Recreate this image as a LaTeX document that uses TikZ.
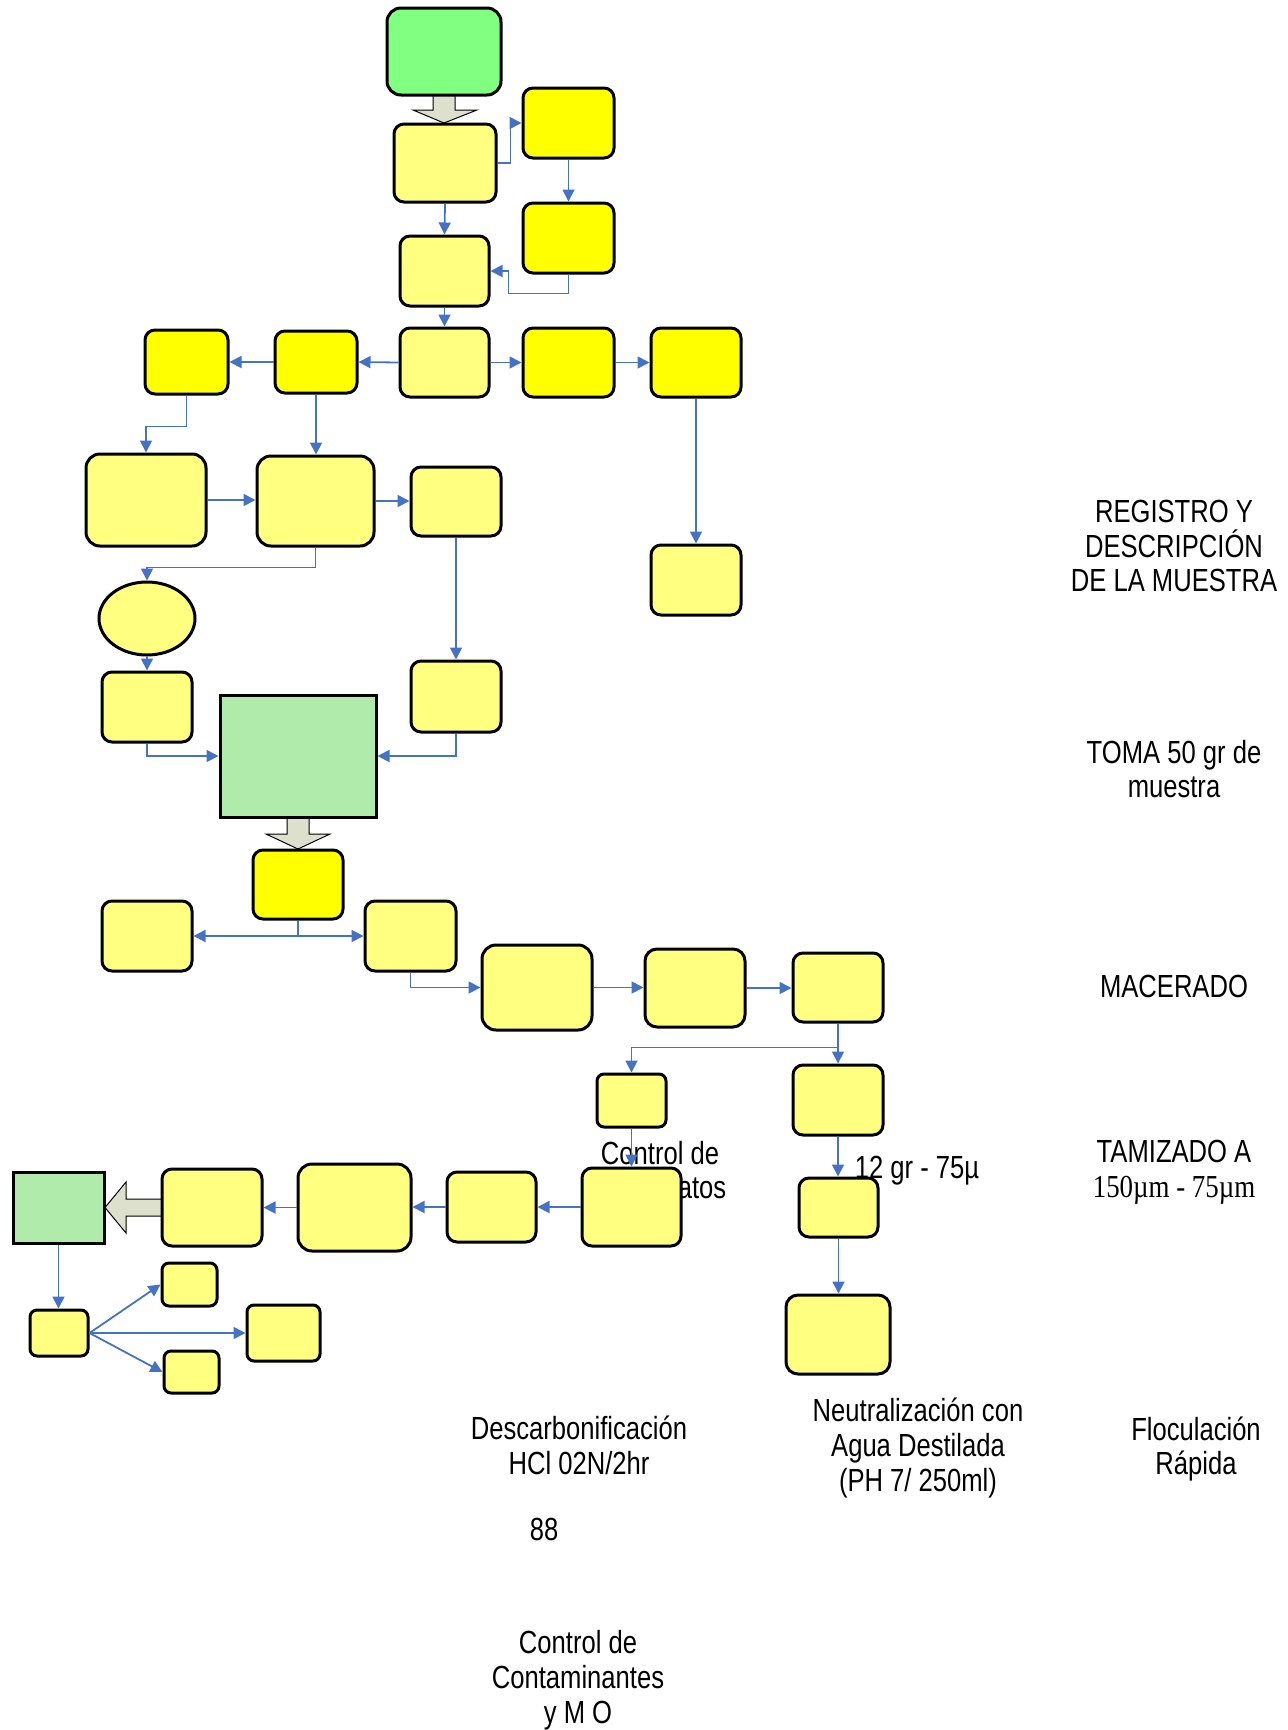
\documentclass[tikz,border=0pt]{standalone}
\usepackage{fontspec}
\setmainfont{Liberation Sans}
\newfontfamily\narrow[FakeStretch=0.8]{Liberation Sans}
\newfontfamily\narrowserif[FakeStretch=0.84]{Liberation Serif}
\usetikzlibrary{arrows.meta,calc,shapes.geometric}

\definecolor{paleyellow}{HTML}{FFFF80}
\definecolor{brightyellow}{HTML}{FFFF00}
\definecolor{brightgreen}{HTML}{80FF80}
\definecolor{palegreen}{HTML}{B0EBAC}
\definecolor{blockgrey}{HTML}{DDE0CC}
\definecolor{flowblue}{HTML}{4472C4}

\tikzset{
  sz/.style 2 args={minimum width=#1*0.5pt, minimum height=#2*0.5pt},
  boxbase/.style={draw=black, line width=1.5pt, rounded corners=5pt, inner sep=0pt},
  lbox/.style={boxbase, fill=paleyellow},
  ybox/.style={boxbase, fill=brightyellow},
  gbox/.style={boxbase, fill=brightgreen, rounded corners=7pt},
  pgbox/.style={draw=black, line width=1.5pt, fill=palegreen, inner sep=0pt},
  small/.style={rounded corners=3.5pt},
  flow/.style={draw=flowblue, line width=0.9pt, -{Triangle[length=6pt,width=6pt]}},
  plain/.style={draw=flowblue, line width=0.9pt},
  blockarrow/.style={draw=black, line width=0.5pt, fill=blockgrey},
  lbl/.style={align=center, inner sep=0pt, font=\narrow\fontsize{16pt}{17.4pt}\selectfont},
}

\begin{document}
\begin{tikzpicture}[x=0.5pt, y=-0.5pt]
\useasboundingbox (0,0) rectangle (1287,1730);

% hollow block arrows
\draw[blockarrow] (433,95) -- (455,95) -- (455,110) -- (477,110) -- (444,123) -- (413,110) -- (433,110) -- cycle;
\draw[blockarrow] (287,816) -- (309,816) -- (309,834) -- (330,834) -- (298,849) -- (266,834) -- (287,834) -- cycle;
\draw[blockarrow] (162,1199) -- (126,1199) -- (126,1182) -- (105,1207.5) -- (126,1233) -- (126,1216) -- (162,1216) -- cycle;

% label partly covered by the box below it
\node[lbl] (carb) at (660,1170) {Control de\\Carbonatos};

% upper column
\node[gbox, sz={114}{87}] (top) at (444,51.5) {};
\node[lbox, sz={102}{78}] (A) at (445,163) {};
\node[ybox, sz={91}{70}] (B) at (568.5,123) {};
\node[ybox, sz={91}{70}] (C) at (568.5,238) {};
\node[lbox, sz={89}{70}] (D) at (444.5,271) {};
\node[lbox, sz={89}{69}] (E) at (444.5,362.5) {};
\node[ybox, sz={91}{69}] (F) at (568.5,362.5) {};
\node[ybox, sz={90}{69}] (G) at (696,362.5) {};
\node[lbox, sz={90}{70}] (G2) at (696,580) {};
\node[ybox, sz={83}{64}] (H) at (186.5,362) {};
\node[ybox, sz={82}{62}] (I) at (316,362) {};

% second tier
\node[lbox, sz={120}{92}, rounded corners=7pt] (J) at (146,500) {};
\node[lbox, sz={117}{90}, rounded corners=7pt] (K) at (315.5,501) {};
\node[lbox, sz={90}{69}] (L) at (456,501.5) {};
\node[ellipse, draw=black, line width=1.5pt, fill=paleyellow, inner sep=0pt, sz={96}{73}] (ell) at (147,618.5) {};
\node[lbox, sz={90}{70}] (M) at (147,707) {};
\node[pgbox, sz={156}{122}] (N) at (298,756) {};
\node[lbox, sz={90}{71}] (O) at (456,696.5) {};

% middle tier
\node[ybox, sz={90}{69}] (P) at (298,884.5) {};
\node[lbox, sz={90}{70}] (Q) at (147,936) {};
\node[lbox, sz={91}{70}] (R) at (410.5,936) {};
\node[lbox, sz={110}{85}, rounded corners=7pt] (S) at (537,987.5) {};
\node[lbox, sz={100}{78}, rounded corners=6pt] (T) at (695,988) {};
\node[lbox, sz={90}{69}] (U) at (838,987.5) {};
\node[lbox, sz={69}{53}, small] (W) at (631.5,1100.5) {};
\node[lbox, sz={90}{70}] (V) at (838,1100) {};
\node[lbox, sz={79}{59}] (X) at (838.5,1207.5) {};
\node[lbox, sz={104}{79}, rounded corners=6pt] (Y) at (838,1334.5) {};

% lower row
\node[lbox, sz={99}{78}] (Z) at (631.5,1207) {};
\node[lbox, sz={89}{70}] (AA) at (491.5,1207) {};
\node[lbox, sz={113}{87}, rounded corners=7pt] (BB) at (354.5,1207.5) {};
\node[lbox, sz={100}{77}] (CC) at (212,1207.5) {};
\node[pgbox, sz={91}{71}] (DD) at (58.5,1207.5) {};
\node[lbox, sz={58}{46}, small] (EE) at (59,1333) {};
\node[lbox, sz={55}{43}, small] (FF) at (189.5,1284.5) {};
\node[lbox, sz={73}{56}, small] (GG) at (283.5,1333) {};
\node[lbox, sz={55}{42}, small] (HH) at (191.5,1372) {};

% connectors: upper column
\draw[flow] (A.east) -- ++(13,0) |- (B.west);
\draw[flow] (B.south) -- (C.north);
\draw[flow] (C.south) -- ++(0,19) -| ($(D.east)+(18,0)$) -- (D.east);
\draw[flow] (A.south) -- (D.north);
\draw[flow] (D.south) -- (E.north);
\draw[flow] (E.east) -- (F.west);
\draw[flow] (F.east) -- (G.west);
\draw[flow] (E.west) -- (I.east);
\draw[flow] (I.west) -- (H.east);
\draw[flow] (G.south) -- (G2.north);
\draw[flow] (H.south) -- ++(0,31) -| (J.north);
\draw[flow] (I.south) -- (I.south |- K.north);
\draw[flow] (J.east) -- (J.east -| K.west);
\draw[flow] (K.east) -- (K.east -| L.west);
\draw[flow] (K.south) -- ++(0,20) -| (ell.north);
\draw[flow] (ell.south) -- (M.north);
\draw[flow] (M.south) |- (N.west);
\draw[flow] (O.south) |- (N.east);
\draw[flow] (L.south) -- (O.north);

% connectors: middle tier
\draw[plain] (P.south) -- (P.south |- Q.east);
\draw[flow] (P.south |- Q.east) -- (Q.east);
\draw[flow] (P.south |- R.west) -- (R.west);
\draw[flow] (R.south) |- (S.west);
\draw[flow] (S.east) -- (S.east -| T.west);
\draw[flow] (T.east) -- (T.east -| U.west);
\draw[flow] (U.south) -- (V.north);
\coordinate (split) at ($(U.south)+(0,24)$);
\draw[flow] (split) -| (W.north);
\draw[flow] (V.south) -- (V.south |- X.north);
\draw[flow] (X.south) -- (X.south |- Y.north);
\draw[flow] (W.south) -- (Z.north);

% connectors: lower row
\draw[flow] (Z.west) -- (AA.east);
\draw[flow] (AA.west) -- (AA.west -| BB.east);
\draw[flow] (BB.west) -- (BB.west -| CC.east);
\draw[flow] (DD.south) -- (DD.south |- EE.north);
\draw[flow] (EE.east) -- (FF.west);
\draw[flow] (EE.east) -- (GG.west);
\draw[flow] (EE.east) -- (HH.west);

% labels
\node[lbl] (t12) at (917,1171) {12 gr - 75µ};
\node[lbl] (reg) at (1174,546) {REGISTRO Y\\DESCRIPCIÓN\\DE LA MUESTRA};
\node[lbl] (toma) at (1174,769) {TOMA 50 gr de\\muestra};
\node[lbl] (mac) at (1174,986) {MACERADO};
\node[lbl] (tam) at (1174,1172) {TAMIZADO A\\{\narrowserif 150µm - 75µm}};
\node[lbl] (floc) at (1196,1449) {Floculación\\Rápida};
\node[lbl] (neu) at (918,1448) {Neutralización con\\Agua Destilada\\(PH 7/ 250ml)};
\node[lbl] (desc) at (579,1445) {Descarbonificación\\HCl 02N/2hr};
\node[lbl] (pg) at (544,1529) {88};
\node[lbl] (cont) at (578,1680) {Control de\\Contaminantes\\y M O};
\end{tikzpicture}
\end{document}
